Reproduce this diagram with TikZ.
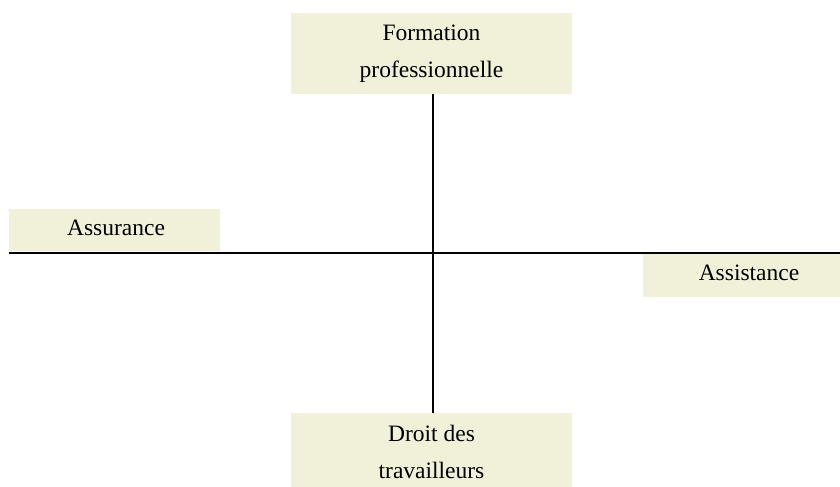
\documentclass[tikz,border=0pt]{standalone}
\usepackage{fontspec}
\setmainfont{Liberation Serif}
\definecolor{boxfill}{RGB}{241,241,217}
\tikzset{
  box/.style={fill=boxfill, draw=none, inner sep=0pt, outer sep=0pt},
  lbl/.style={anchor=base, inner sep=0pt, font=\fontsize{23.5bp}{28bp}\selectfont},
  axis/.style={draw=black, line width=1.8bp}
}
\begin{document}
\begin{tikzpicture}[x=1bp,y=-1bp]
\useasboundingbox (0,0) rectangle (840,487);
% boxes
\path[box] (291,13) rectangle (572,94) coordinate (topbr);
\node[box, minimum width=281bp, minimum height=81bp] (top) at (431.5,53.5) {};
\node[box, minimum width=281bp, minimum height=74bp] (bot) at (431.5,450) {};
\node[box, minimum width=211bp, minimum height=42bp] (left) at (114.5,230) {};
\node[box, minimum width=197bp, minimum height=43bp] (right) at (741.5,275.5) {};
% labels
\node[lbl] (t1) at (431.5,40.5) {Formation};
\node[lbl] (t2) at (431.5,77.5) {professionnelle};
\node[lbl] (b1) at (431.5,441.5) {Droit des};
\node[lbl] (b2) at (431.5,478) {travailleurs};
\node[lbl] (l1) at (116,236) {Assurance};
\node[lbl] (r1) at (749,280.5) {Assistance};
% axes
\coordinate (hl) at (9,253);
\coordinate (hr) at (840,253);
\draw[axis] (top.south -| 433,0) -- (bot.north -| 433,0);
\draw[axis] (hl) -- (hr);
\end{tikzpicture}
\end{document}
